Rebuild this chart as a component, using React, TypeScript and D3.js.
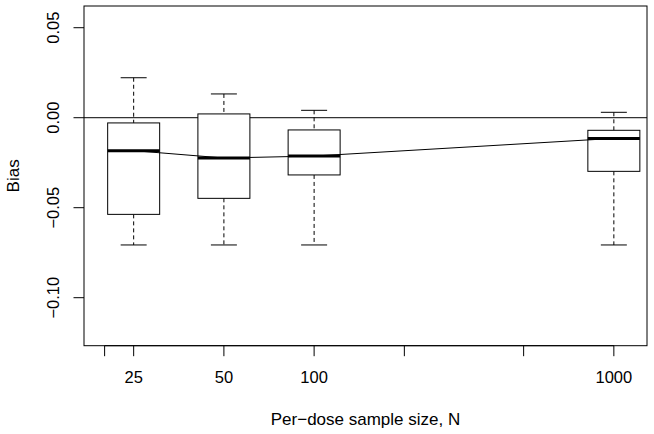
import React from "react";
import * as d3 from "d3";

const sampleSizes = [25, 50, 100, 1000];
const whiskerHigh = [0.0222, 0.0132, 0.0041, 0.003];
const boxHigh = [-0.0029, 0.0021, -0.0068, -0.007];
const medians = [-0.0183, -0.0224, -0.0213, -0.0115];
const boxLow = [-0.0537, -0.0448, -0.0318, -0.0298];
const whiskerLow = [-0.0707, -0.0707, -0.0707, -0.0707];

const xTicks = [20, 25, 50, 100, 200, 500, 1000];
const xTickLabels = ["", "25", "50", "100", "", "", "1000"];
const yTicks = [0.05, 0.0, -0.05, -0.1];
const yTickLabels = ["0.05", "0.00", "\u22120.05", "\u22120.10"];

const W = 654;
const H = 434;
const left = 84;
const right = 647;
const top = 6;
const bottom = 345.7;
const font = "'Liberation Sans', Arial, Helvetica, sans-serif";

export default function App() {
  const x = d3.scaleLog().domain([17.07, 1290]).range([left, right]);
  const y = d3.scaleLinear().domain([-0.12667, 0.06206]).range([bottom, top]);
  const boxW = 52;
  const capW = 26;
  const line = d3
    .line<number>()
    .x((_, i) => x(sampleSizes[i]))
    .y((d) => y(d));

  return (
    <svg
      width={W}
      height={H}
      style={{ position: "absolute", left: 0, top: 0, background: "#fff" }}
      fontFamily={font}
    >
      <rect x={0} y={0} width={W} height={H} fill="#fff" />
      <line x1={left} x2={right} y1={y(0)} y2={y(0)} stroke="#000" strokeWidth={1} />
      {sampleSizes.map((n, i) => {
        const cx = x(n);
        return (
          <g key={n}>
            <line x1={cx} x2={cx} y1={y(whiskerHigh[i])} y2={y(boxHigh[i])} stroke="#000" strokeDasharray="4,3" />
            <line x1={cx} x2={cx} y1={y(boxLow[i])} y2={y(whiskerLow[i])} stroke="#000" strokeDasharray="4,3" />
            <line x1={cx - capW / 2} x2={cx + capW / 2} y1={y(whiskerHigh[i])} y2={y(whiskerHigh[i])} stroke="#000" />
            <line x1={cx - capW / 2} x2={cx + capW / 2} y1={y(whiskerLow[i])} y2={y(whiskerLow[i])} stroke="#000" />
            <rect
              x={cx - boxW / 2}
              y={y(boxHigh[i])}
              width={boxW}
              height={y(boxLow[i]) - y(boxHigh[i])}
              fill="#fff"
              stroke="#000"
            />
          </g>
        );
      })}
      <path d={line(medians) || ""} fill="none" stroke="#000" strokeWidth={1} />
      {sampleSizes.map((n, i) => {
        const cx = x(n);
        return (
          <line
            key={"m" + n}
            x1={cx - boxW / 2}
            x2={cx + boxW / 2}
            y1={y(medians[i])}
            y2={y(medians[i])}
            stroke="#000"
            strokeWidth={3}
          />
        );
      })}
      <rect x={left} y={top} width={right - left} height={bottom - top} fill="none" stroke="#000" />
      <line x1={x(xTicks[0])} x2={x(xTicks[xTicks.length - 1])} y1={bottom} y2={bottom} stroke="#000" />
      {xTicks.map((t, i) => (
        <g key={"xt" + t}>
          <line x1={x(t)} x2={x(t)} y1={bottom} y2={bottom + 10.5} stroke="#000" />
          {xTickLabels[i] && (
            <text x={x(t)} y={383.3} textAnchor="middle" fontSize={16.5} fill="#000">
              {xTickLabels[i]}
            </text>
          )}
        </g>
      ))}
      {yTicks.map((t, i) => (
        <g key={"yt" + t}>
          <line x1={left - 10.5} x2={left} y1={y(t)} y2={y(t)} stroke="#000" />
          <text
            transform={`translate(59,${y(t)}) rotate(-90)`}
            textAnchor="middle"
            fontSize={16.5}
            fill="#000"
          >
            {yTickLabels[i]}
          </text>
        </g>
      ))}
      <text x={(left + right) / 2} y={425} textAnchor="middle" fontSize={17} fill="#000">
        Per{"\u2212"}dose sample size, N
      </text>
      <text
        transform={`translate(19.3,${(top + bottom) / 2}) rotate(-90)`}
        textAnchor="middle"
        fontSize={17}
        fill="#000"
      >
        Bias
      </text>
    </svg>
  );
}
